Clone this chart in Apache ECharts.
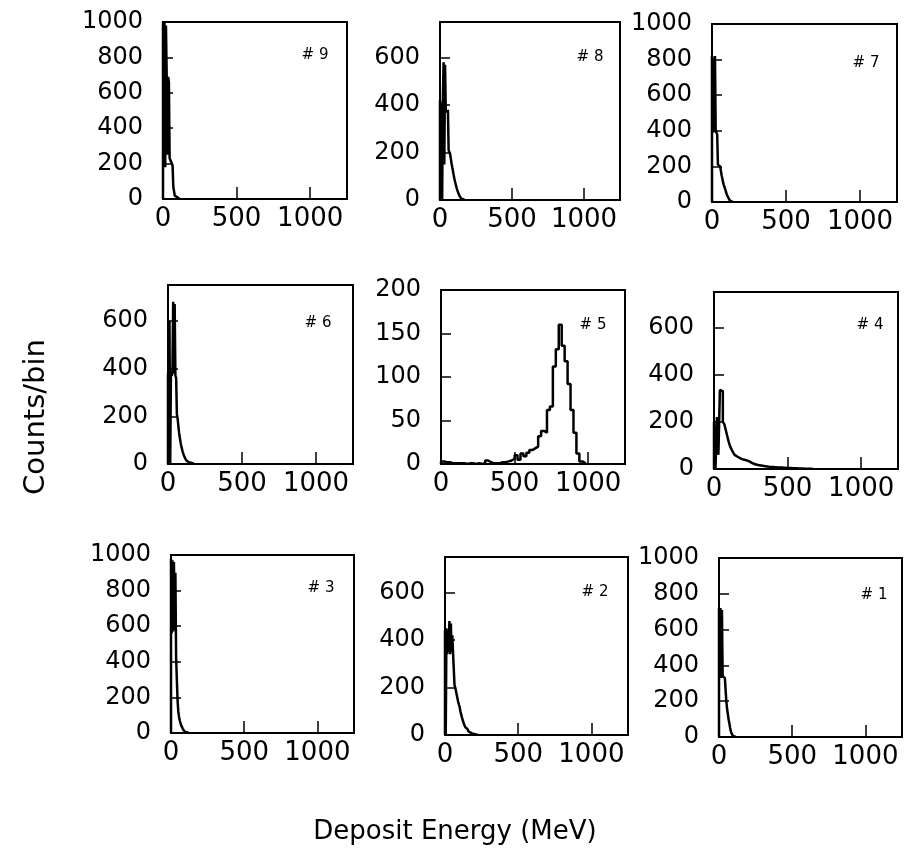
<!DOCTYPE html>
<html><head><meta charset="utf-8">
<script src="https://cdn.jsdelivr.net/npm/echarts@6/dist/echarts.min.js"></script>
<style>html,body{margin:0;padding:0;background:#fff}#c{width:908px;height:861px}</style>
</head><body><div id="c"></div>
<script>
// ---- data (counts per bin) ----
const xTicks = [0, 500, 1000];
const xMax = 1250;
const yTicks1000 = [0, 200, 400, 600, 800, 1000];
const yTicks750 = [0, 200, 400, 600];
const yTicks200 = [0, 50, 100, 150, 200];

// detector #9, 5 MeV bins starting at 0
const det9 = [1000, 200, 1000, 180, 980, 700, 250, 690, 660, 230, 220, 210, 200, 190, 70, 65, 18, 15, 12, 8, 4, 2, 1];
// detector #8, 5 MeV bins
const det8 = [420, 0, 410, 0, 430, 580, 150, 570, 380, 380, 370, 380, 210, 205, 195, 175, 155, 138, 122, 105, 90, 76, 64, 52, 42, 33, 25, 18, 12, 8, 5, 3, 2, 1];
// detector #7, 5 MeV bins
const det7 = [820, 400, 810, 390, 820, 400, 390, 380, 210, 200, 200, 190, 175, 150, 130, 110, 95, 85, 70, 55, 42, 32, 25, 15, 9, 5, 2, 1];
// detector #6, 5 MeV bins
const det6 = [380, 0, 600, 0, 390, 370, 380, 680, 380, 670, 370, 360, 210, 190, 160, 130, 110, 90, 75, 62, 50, 40, 32, 25, 18, 14, 10, 8, 6, 5, 5, 4, 3, 2, 1];
// detector #5, 20 MeV bins
const det5 = [3, 2, 2, 1, 1, 1, 1, 1, 0, 1, 1, 0, 1, 0, 1, 4, 2, 1, 1, 1, 2, 2, 3, 4, 6, 10, 5, 12, 9, 13, 16, 18, 20, 32, 38, 36, 62, 66, 112, 132, 160, 136, 118, 92, 62, 36, 12, 3, 1];
// detector #4, 10 MeV bins
const det4 = [200, 0, 220, 60, 335, 330, 200, 190, 165, 140, 115, 95, 82, 70, 60, 52, 48, 45, 42, 40, 38, 37, 36, 32, 28, 25, 23, 20, 18, 17, 16, 15, 14, 13, 12, 11, 10, 9, 9, 8, 8, 7, 7, 6, 6, 6, 5, 5, 5, 4, 4, 4, 3, 3, 3, 3, 2, 2, 2, 2, 2, 1, 1, 1, 1, 1, 1];
// detector #3, 5 MeV bins
const det3 = [980, 560, 970, 570, 960, 580, 900, 420, 300, 180, 120, 90, 70, 55, 42, 32, 25, 16, 10, 6, 4, 3, 2, 1];
// detector #2, 5 MeV bins
const det2 = [440, 0, 450, 340, 440, 350, 480, 340, 470, 350, 420, 345, 340, 210, 200, 185, 170, 155, 140, 128, 118, 100, 88, 75, 65, 55, 45, 38, 32, 28, 24, 18, 15, 12, 10, 8, 6, 5, 4, 3, 3, 2, 2, 1, 1];
// detector #1, 5 MeV bins
const det1 = [720, 330, 720, 330, 710, 340, 340, 330, 340, 335, 200, 160, 130, 100, 80, 55, 35, 22, 12, 6, 3, 2, 1];

const panels = [
  { label: '# 9', values: det9, binW: 5, yMax: 1000, yTicks: yTicks1000, yInt: 200 },
  { label: '# 8', values: det8, binW: 5, yMax: 750, yTicks: yTicks750, yInt: 200 },
  { label: '# 7', values: det7, binW: 5, yMax: 1000, yTicks: yTicks1000, yInt: 200 },
  { label: '# 6', values: det6, binW: 5, yMax: 750, yTicks: yTicks750, yInt: 200 },
  { label: '# 5', values: det5, binW: 20, yMax: 200, yTicks: yTicks200, yInt: 50 },
  { label: '# 4', values: det4, binW: 10, yMax: 750, yTicks: yTicks750, yInt: 200 },
  { label: '# 3', values: det3, binW: 5, yMax: 1000, yTicks: yTicks1000, yInt: 200 },
  { label: '# 2', values: det2, binW: 5, yMax: 750, yTicks: yTicks750, yInt: 200 },
  { label: '# 1', values: det1, binW: 5, yMax: 1000, yTicks: yTicks1000, yInt: 200 }
];

// ---- layout (pixels) ----
const layout = [
  { left: 163, top: 22, width: 184, height: 177 },
  { left: 440, top: 22, width: 180, height: 178 },
  { left: 712, top: 24, width: 185, height: 178 },
  { left: 168, top: 285, width: 185, height: 179 },
  { left: 441, top: 290, width: 184, height: 174 },
  { left: 714, top: 292, width: 184, height: 177 },
  { left: 171, top: 555, width: 183, height: 178 },
  { left: 445, top: 557, width: 183, height: 178 },
  { left: 719, top: 558, width: 183, height: 179 }
];
const labelPos = [
  { x: 315, y: 55 }, { x: 590, y: 57 }, { x: 866, y: 63 },
  { x: 318, y: 323 }, { x: 593, y: 325 }, { x: 870, y: 325 },
  { x: 321, y: 588 }, { x: 595, y: 592 }, { x: 874, y: 595 }
];

function histPoints(values, w) {
  const pts = [[0, 0]];
  values.forEach((v, i) => pts.push([i * w, v]));
  pts.push([values.length * w, 0]);
  return pts;
}

const FONT = 'DejaVu Sans';
const fmt = v => String(v);
const grid = [], xAxis = [], yAxis = [], series = [], graphic = [];
panels.forEach((p, i) => {
  const L = layout[i];
  grid.push({ left: L.left, top: L.top, width: L.width, height: L.height,
    show: true, borderColor: '#000', borderWidth: 2, backgroundColor: 'transparent', containLabel: false });
  xAxis.push({ type: 'value', gridIndex: i, min: 0, max: xMax, interval: 500,
    axisLine: { show: true, onZero: false, lineStyle: { color: '#000', width: 2 } },
    axisTick: { show: true, inside: true, length: 12, customValues: xTicks, lineStyle: { color: '#000', width: 1.5 } },
    axisLabel: { show: true, customValues: xTicks, formatter: fmt, margin: 7, color: '#000', fontFamily: FONT, fontSize: 26 },
    splitLine: { show: false } });
  yAxis.push({ type: 'value', gridIndex: i, min: 0, max: p.yMax, interval: p.yInt,
    axisLine: { show: true, onZero: false, lineStyle: { color: '#000', width: 2 } },
    axisTick: { show: true, inside: true, length: 10, customValues: p.yTicks, lineStyle: { color: '#000', width: 1.5 } },
    axisLabel: { show: true, customValues: p.yTicks, formatter: fmt,
      margin: 20, color: '#000', fontFamily: FONT, fontSize: 24 },
    splitLine: { show: false } });
  series.push({ type: 'line', xAxisIndex: i, yAxisIndex: i, step: 'end', showSymbol: false, symbol: 'none',
    data: histPoints(p.values, p.binW), lineStyle: { color: '#000', width: 2.5 }, animation: false, silent: true });
  graphic.push({ type: 'text', x: labelPos[i].x, y: labelPos[i].y,
    style: { text: p.label, fill: '#000', font: '15px "DejaVu Sans"', textAlign: 'center', textVerticalAlign: 'middle' } });
});

graphic.push({ type: 'text', x: 36, y: 417, rotation: Math.PI / 2,
  style: { text: 'Counts/bin', fill: '#000', font: '29px "DejaVu Sans"', textAlign: 'center', textVerticalAlign: 'middle' } });
graphic.push({ type: 'text', x: 455, y: 832,
  style: { text: 'Deposit Energy (MeV)', fill: '#000', font: '26px "DejaVu Sans"', textAlign: 'center', textVerticalAlign: 'middle' } });

const chart = echarts.init(document.getElementById('c'), null, { renderer: 'canvas' });
chart.setOption({ backgroundColor: '#fff', animation: false, grid, xAxis, yAxis, series, graphic });
</script></body></html>
